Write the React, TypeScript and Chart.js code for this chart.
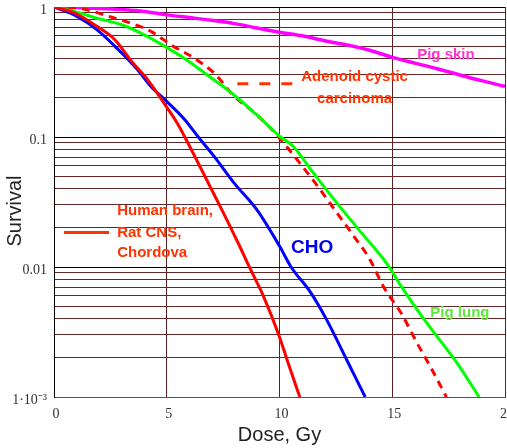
import { useEffect, useRef } from 'react';
import { Chart, registerables } from 'chart.js';

Chart.register(...registerables);

// Survival curves: dose in Gy, surviving fraction
const doseHumanBrain = [0, 0.9, 1.9, 2.7, 3.4, 4.15, 4.9, 5.5, 5.8, 6.5, 7.4, 8.15, 8.7, 9.3, 10.0, 10.35, 10.9];
const survivalHumanBrain = [1, 0.9, 0.71, 0.56, 0.39, 0.276, 0.18, 0.125, 0.1, 0.058, 0.0285, 0.0155, 0.0097, 0.0059, 0.0029, 0.0019, 0.001];

const doseCHO = [0, 1.0, 1.9, 2.8, 3.7, 4.3, 5.0, 5.8, 6.4, 7.1, 8.0, 9.0, 10.0, 10.5, 11.4, 12.1, 13.0, 13.8];
const survivalCHO = [1, 0.85, 0.67, 0.48, 0.33, 0.245, 0.188, 0.136, 0.1, 0.071, 0.044, 0.0275, 0.0145, 0.0101, 0.0063, 0.0039, 0.0019, 0.001];

const doseAdenoid = [0, 1.3, 2.4, 3.4, 4.3, 5.2, 6.2, 7.1, 8.0, 8.9, 9.85, 10.9, 11.7, 12.55, 13.3, 14.0, 14.6, 15.4, 16.1, 16.7, 17.4];
const survivalAdenoid = [1, 0.965, 0.85, 0.75, 0.65, 0.51, 0.405, 0.31, 0.205, 0.153, 0.105, 0.063, 0.0417, 0.026, 0.0172, 0.0115, 0.0071, 0.0044, 0.0026, 0.0017, 0.001];

const dosePigLung = [0, 0.9, 1.9, 3.0, 3.85, 4.9, 5.9, 6.8, 7.85, 8.9, 10.05, 10.6, 11.5, 12.55, 13.45, 14.8, 15.4, 16.3, 17.0, 17.9, 18.85];
const survivalPigLung = [1, 0.925, 0.82, 0.73, 0.63, 0.5, 0.39, 0.3, 0.22, 0.153, 0.1, 0.085, 0.053, 0.031, 0.02, 0.0104, 0.0071, 0.0042, 0.0029, 0.0018, 0.001];

const dosePigSkin = [0, 1, 2, 3, 4, 5, 6, 7, 8, 9, 10, 11, 12, 13, 14, 15, 16, 17, 18, 19, 20];
const survivalPigSkin = [1, 0.99, 0.975, 0.955, 0.925, 0.87, 0.83, 0.79, 0.745, 0.69, 0.64, 0.6, 0.55, 0.51, 0.465, 0.41, 0.37, 0.335, 0.3, 0.27, 0.245];

// Axes
const xTickValues = [0, 5, 10, 15, 20];
const yDecades = [0.001, 0.01, 0.1];
const yLabelValues = [1, 0.1, 0.01, 0.001];
const yLabelTexts = ['1', '0.1', '0.01', '1·10⁻³'];

const yGridValues: number[] = [];
for (const d of yDecades) {
  for (let m = 1; m <= 9; m++) yGridValues.push(Number((d * m).toPrecision(6)));
}
yGridValues.push(1);

const toPoints = (xs: number[], ys: number[]) => xs.map((x, i) => ({ x, y: ys[i] }));

const isDecade = (v: number) => Math.abs(Math.log10(v) - Math.round(Math.log10(v))) < 1e-9;

// Curve annotations, placed in data coordinates
const curveLabels = [
  { lines: ['Pig skin'], x: 17.38, y: 0.43, color: '#ff33cc', size: 15, align: 'center' },
  { lines: ['Adenoid cystic'], x: 13.33, y: 0.29, color: '#ff3300', size: 15, align: 'center' },
  { lines: ['carcinoma'], x: 13.33, y: 0.197, color: '#ff3300', size: 15, align: 'center' },
  { lines: ['Pig lung'], x: 18.0, y: 0.00445, color: '#5ee83a', size: 15, align: 'center' },
  { lines: ['CHO'], x: 11.45, y: 0.0141, color: '#0000ee', size: 19, align: 'center' },
  { lines: ['Human brain,'], x: 2.8, y: 0.0268, color: '#ff3300', size: 15, align: 'left' },
  { lines: ['Rat CNS,'], x: 2.8, y: 0.01828, color: '#ff3300', size: 15, align: 'left' },
  { lines: ['Chordova'], x: 2.8, y: 0.01282, color: '#ff3300', size: 15, align: 'left' },
];

const keySwatches = [
  { x0: 8.13, x1: 10.62, y: 0.257, color: '#ff3300', dash: [11, 11] },
  { x0: 0.44, x1: 2.44, y: 0.01846, color: '#ff3300', dash: [] as number[] },
];

const annotationPlugin = {
  id: 'curveAnnotations',
  afterDatasetsDraw(chart: any) {
    const { ctx, scales } = chart;
    const xs = scales.x;
    const ys = scales.y;
    ctx.save();
    for (const s of keySwatches) {
      ctx.beginPath();
      ctx.strokeStyle = s.color;
      ctx.lineWidth = 3;
      ctx.setLineDash(s.dash);
      const py = ys.getPixelForValue(s.y);
      ctx.moveTo(xs.getPixelForValue(s.x0), py);
      ctx.lineTo(xs.getPixelForValue(s.x1), py);
      ctx.stroke();
    }
    ctx.setLineDash([]);
    ctx.textBaseline = 'middle';
    for (const l of curveLabels) {
      ctx.font = `bold ${l.size}px "Liberation Sans", Arial, sans-serif`;
      ctx.fillStyle = l.color;
      ctx.textAlign = l.align;
      ctx.fillText(l.lines[0], xs.getPixelForValue(l.x), ys.getPixelForValue(l.y));
    }
    // vertical axis title
    const area = chart.chartArea;
    ctx.translate(15, (area.top + area.bottom) / 2 + 9);
    ctx.rotate(-Math.PI / 2);
    ctx.textAlign = 'center';
    ctx.font = '20px "Liberation Sans", Arial, sans-serif';
    ctx.fillStyle = '#222';
    ctx.fillText('Survival', 0, 0);
    ctx.restore();
  },
};

export default function App() {
  const canvasRef = useRef<HTMLCanvasElement | null>(null);

  useEffect(() => {
    const canvas = canvasRef.current;
    if (!canvas) return;
    const lineStyle = { pointRadius: 0, fill: false, cubicInterpolationMode: 'monotone' as const };
    const chart = new Chart(canvas, {
      type: 'line',
      data: {
        datasets: [
          { ...lineStyle, label: 'Human brain, Rat CNS, Chordova', data: toPoints(doseHumanBrain, survivalHumanBrain), borderColor: '#ff0000', borderWidth: 3 },
          { ...lineStyle, label: 'CHO', data: toPoints(doseCHO, survivalCHO), borderColor: '#0000ff', borderWidth: 3 },
          { ...lineStyle, label: 'Pig lung', data: toPoints(dosePigLung, survivalPigLung), borderColor: '#00ff00', borderWidth: 3 },
          { ...lineStyle, label: 'Adenoid cystic carcinoma', data: toPoints(doseAdenoid, survivalAdenoid), borderColor: '#ff0000', borderWidth: 3, borderDash: [8, 6] },
          { ...lineStyle, label: 'Pig skin', data: toPoints(dosePigSkin, survivalPigSkin), borderColor: '#ff00ff', borderWidth: 3.5 },
        ],
      },
      options: {
        animation: false,
        responsive: false,
        maintainAspectRatio: false,
        layout: { padding: { top: 7, right: 2, left: 0, bottom: 0 } },
        plugins: { legend: { display: false }, tooltip: { enabled: false } },
        scales: {
          x: {
            type: 'linear',
            min: 0,
            max: 20,
            afterBuildTicks: (s: any) => {
              s.ticks = xTickValues.map((v) => ({ value: v }));
            },
            afterFit: (s: any) => {
              s.height = 51;
              s.paddingLeft = 0;
              s.paddingRight = 0;
            },
            ticks: {
              autoSkip: false,
              maxRotation: 0,
              padding: 9,
              labelOffset: 2,
              color: '#333',
              font: { family: '"Liberation Serif", serif', size: 14 },
              callback: (v: any) => String(v),
            },
            grid: {
              drawTicks: false,
              lineWidth: 1,
              color: (c: any) => (c.tick && c.tick.value === 0 ? '#000' : '#5c2020'),
            },
            border: { color: '#555', width: 1 },
            title: {
              display: true,
              text: 'Dose, Gy',
              color: '#222',
              font: { family: '"Liberation Sans", Arial, sans-serif', size: 20 },
              padding: { top: 0, bottom: 1 },
            },
          },
          y: {
            type: 'logarithmic',
            min: 0.001,
            max: 1,
            afterBuildTicks: (s: any) => {
              s.ticks = yGridValues.map((v) => ({ value: v, major: isDecade(v) }));
            },
            afterFit: (s: any) => {
              s.width = 54;
              s.paddingTop = 0;
              s.paddingBottom = 0;
            },
            ticks: {
              autoSkip: false,
              padding: 7,
              labelOffset: 3,
              color: '#333',
              font: { family: '"Liberation Serif", serif', size: 14 },
              callback: (v: any) => {
                const i = yLabelValues.findIndex((t) => Math.abs(t - Number(v)) < Number(v) * 1e-6);
                return i >= 0 ? yLabelTexts[i] : '';
              },
            },
            grid: {
              drawTicks: false,
              lineWidth: 1,
              color: (c: any) => {
                const v = c.tick ? c.tick.value : 0;
                if (v === 0.001) return '#555';
                return isDecade(v) ? '#000' : '#642828';
              },
            },
            border: { color: '#000', width: 1 },
          },
        },
      },
      plugins: [annotationPlugin],
    } as any);
    return () => chart.destroy();
  }, []);

  return (
    <div style={{ position: 'fixed', left: 0, top: 0, width: 507, height: 448, background: '#fff' }}>
      <canvas ref={canvasRef} width={507} height={448} style={{ display: 'block' }} />
    </div>
  );
}
